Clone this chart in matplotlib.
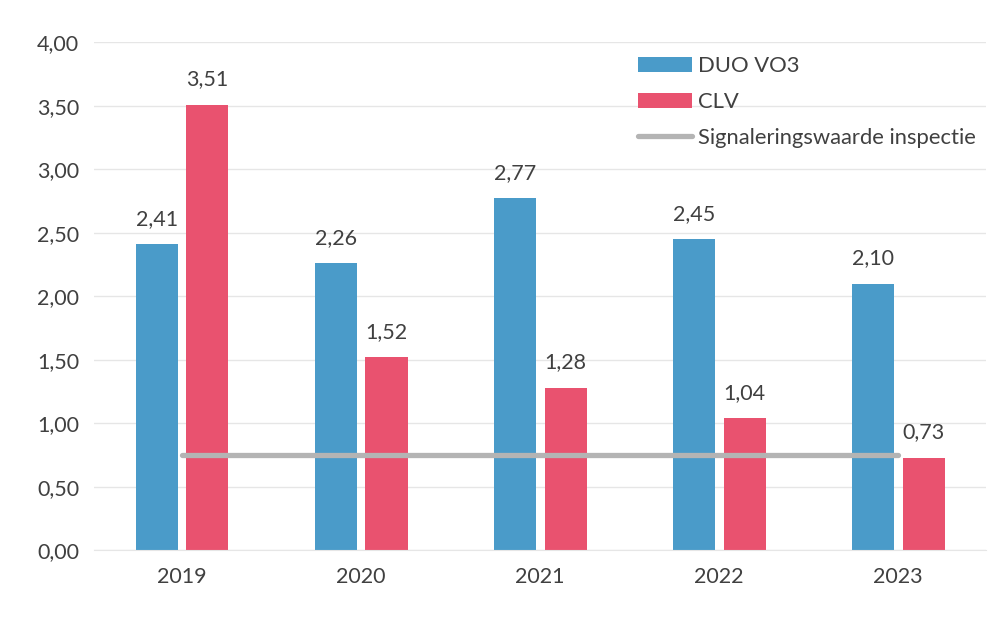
import matplotlib
matplotlib.use("Agg")
import matplotlib.pyplot as plt
import numpy as np

plt.rcParams.update({"font.family": ["Lato", "DejaVu Sans"], "font.size": 16})

years = ["2019", "2020", "2021", "2022", "2023"]
duo_vo3 = [2.41, 2.26, 2.77, 2.45, 2.10]
clv = [3.51, 1.52, 1.28, 1.04, 0.73]
signal = [0.75, 0.75, 0.75, 0.75, 0.75]
yticks = [0.0, 0.5, 1.0, 1.5, 2.0, 2.5, 3.0, 3.5, 4.0]

blue = "#4a9bc9"
red = "#e9526f"
grey = "#b4b4b4"
txt = "#404040"

fig = plt.figure(figsize=(10.03, 6.31), dpi=100)
ax = fig.add_axes([0.094, 0.128, 0.889, 0.805])

x = np.arange(len(years))
w = 0.235
off = 0.142
b1 = ax.bar(x - off, duo_vo3, w, color=blue, label="DUO VO3", zorder=2)
b2 = ax.bar(x + off, clv, w, color=red, label="CLV", zorder=2)
ln, = ax.plot(x, signal, color=grey, lw=3.8, solid_capstyle="round",
              label="Signaleringswaarde inspectie", zorder=3)

for bars, vals in ((b1, duo_vo3), (b2, clv)):
    for r, v in zip(bars, vals):
        ax.annotate(f"{v:.2f}".replace(".", ","),
                    (r.get_x() + r.get_width() / 2, v),
                    xytext=(0, 11), textcoords="offset points",
                    ha="center", va="bottom", color=txt, fontsize=15.5)

ax.set_xlim(-0.49, 4.49)
ax.set_ylim(0, 4.0)
ax.set_yticks(yticks)
ax.set_yticklabels([f"{t:.2f}".replace(".", ",") for t in yticks])
ax.set_xticks(x)
ax.set_xticklabels(years)
ax.tick_params(axis="both", length=0, colors=txt, labelsize=15.5)
ax.tick_params(axis="x", pad=12)
ax.tick_params(axis="y", pad=11)
ax.grid(axis="y", color="#e6e6e6", lw=1, zorder=0)
for s in ["top", "right", "left"]:
    ax.spines[s].set_visible(False)
ax.spines["bottom"].set_color("#e6e6e6")

leg = ax.legend([b1, b2, ln], ["DUO VO3", "CLV", "Signaleringswaarde inspectie"],
                loc="upper right", bbox_to_anchor=(1.003, 0.998), frameon=False,
                handlelength=2.45, handleheight=0.7, handletextpad=0.25,
                labelspacing=0.72, fontsize=15.8, borderaxespad=0.2)
for t in leg.get_texts():
    t.set_color(txt)

fig.savefig("out.png", dpi=100)
